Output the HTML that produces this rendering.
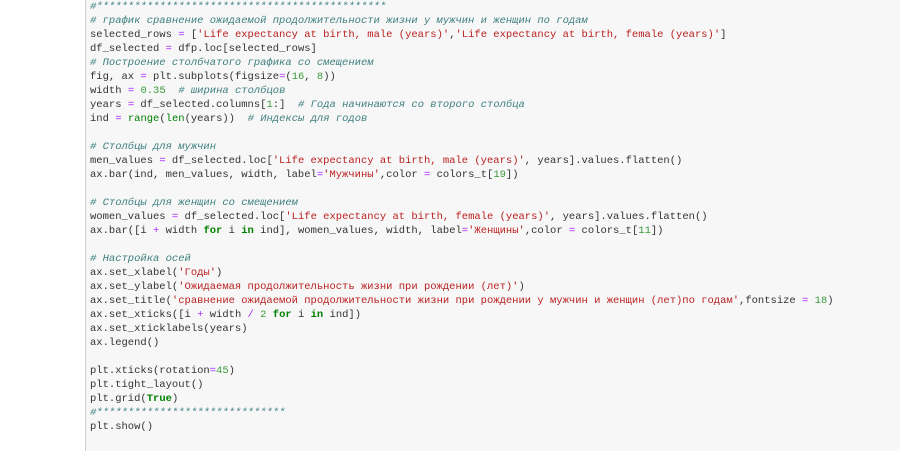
<!DOCTYPE html>
<html><head><meta charset="utf-8"><style>
html,body{margin:0;padding:0;background:#fff;width:900px;height:451px;overflow:hidden}
.cell{position:absolute;left:85px;top:0;width:815px;height:451px;background:#f7f7f7;border-left:1px solid #cfcfcf}
pre{position:absolute;left:90px;top:0px;margin:0;font-family:"Liberation Mono","DejaVu Sans Mono",monospace;font-size:10.5px;line-height:14.0px;color:#333;white-space:pre}
.c{color:#408080;font-style:italic}
.s{color:#ba2121}
.k{color:#008000;font-weight:bold}
.b{color:#008000}
.n{color:#3a9a3a}
.o{color:#aa22ff}
</style></head><body>
<div class="cell"></div>
<pre><span class="c">#**********************************************</span>
<span class="c"># график сравнение ожидаемой продолжительности жизни у мужчин и женщин по годам</span>
selected_rows <span class="o">=</span> [<span class="s">'Life expectancy at birth, male (years)'</span>,<span class="s">'Life expectancy at birth, female (years)'</span>]
df_selected <span class="o">=</span> dfp.loc[selected_rows]
<span class="c"># Построение столбчатого графика со смещением</span>
fig, ax <span class="o">=</span> plt.subplots(figsize<span class="o">=</span>(<span class="n">16</span>, <span class="n">8</span>))
width <span class="o">=</span> <span class="n">0.35</span>  <span class="c"># ширина столбцов</span>
years <span class="o">=</span> df_selected.columns[<span class="n">1</span>:]  <span class="c"># Года начинаются со второго столбца</span>
ind <span class="o">=</span> <span class="b">range</span>(<span class="b">len</span>(years))  <span class="c"># Индексы для годов</span>

<span class="c"># Столбцы для мужчин</span>
men_values <span class="o">=</span> df_selected.loc[<span class="s">'Life expectancy at birth, male (years)'</span>, years].values.flatten()
ax.bar(ind, men_values, width, label<span class="o">=</span><span class="s">'Мужчины'</span>,color <span class="o">=</span> colors_t[<span class="n">19</span>])

<span class="c"># Столбцы для женщин со смещением</span>
women_values <span class="o">=</span> df_selected.loc[<span class="s">'Life expectancy at birth, female (years)'</span>, years].values.flatten()
ax.bar([i <span class="o">+</span> width <span class="k">for</span> i <span class="k">in</span> ind], women_values, width, label<span class="o">=</span><span class="s">'Женщины'</span>,color <span class="o">=</span> colors_t[<span class="n">11</span>])

<span class="c"># Настройка осей</span>
ax.set_xlabel(<span class="s">'Годы'</span>)
ax.set_ylabel(<span class="s">'Ожидаемая продолжительность жизни при рождении (лет)'</span>)
ax.set_title(<span class="s">'сравнение ожидаемой продолжительности жизни при рождении у мужчин и женщин (лет)по годам'</span>,fontsize <span class="o">=</span> <span class="n">18</span>)
ax.set_xticks([i <span class="o">+</span> width <span class="o">/</span> <span class="n">2</span> <span class="k">for</span> i <span class="k">in</span> ind])
ax.set_xticklabels(years)
ax.legend()

plt.xticks(rotation<span class="o">=</span><span class="n">45</span>)
plt.tight_layout()
plt.grid(<span class="k">True</span>)
<span class="c">#******************************</span>
plt.show()</pre>
</body></html>
